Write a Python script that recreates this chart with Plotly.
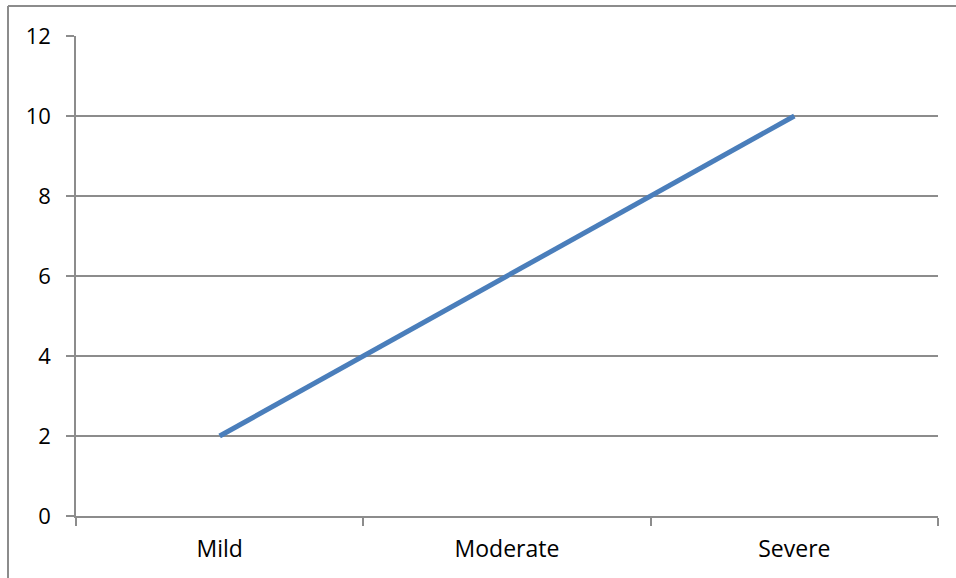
import plotly.graph_objects as go

# Severity categories and their values
categories = ["Mild", "Moderate", "Severe"]
values = [2, 6, 10]
y_ticks = [0, 2, 4, 6, 8, 10, 12]

GRID = "#8c8c8c"
FONT = "'Open Sans', sans-serif"

fig = go.Figure()
fig.add_trace(go.Scatter(
    x=categories,
    y=values,
    mode="lines",
    line=dict(color="#4a7ebb", width=5),
    showlegend=False,
    hoverinfo="x+y",
))

fig.update_layout(
    width=956,
    height=578,
    margin=dict(l=76, r=18, t=36, b=62),
    paper_bgcolor="white",
    plot_bgcolor="white",
    font=dict(family=FONT, size=22, color="#000000"),
    xaxis=dict(
        type="category",
        range=[-0.5, 2.5],
        tickson="boundaries",
        ticks="outside",
        ticklen=8,
        tickcolor=GRID,
        tickwidth=1.5,
        showgrid=False,
        showline=True,
        linecolor=GRID,
        linewidth=1.5,
        ticklabelstandoff=12,
        tickfont=dict(family=FONT, size=23),
    ),
    yaxis=dict(
        range=[0, 12],
        tickvals=y_ticks,
        ticks="outside",
        ticklen=8,
        tickcolor=GRID,
        tickwidth=1.5,
        showgrid=True,
        gridcolor=GRID,
        gridwidth=1.5,
        showline=True,
        linecolor=GRID,
        linewidth=1.5,
        zeroline=False,
        ticklabelstandoff=11,
        tickfont=dict(family=FONT, size=22),
    ),
    shapes=[
        # chart-area frame (left and top edges)
        dict(type="line", xref="paper", yref="paper",
             x0=-68 / 862, x1=2, y0=1 + 30 / 480, y1=1 + 30 / 480,
             line=dict(color=GRID, width=2)),
        dict(type="line", xref="paper", yref="paper",
             x0=-68 / 862, x1=-68 / 862, y0=1 + 30 / 480, y1=-1,
             line=dict(color=GRID, width=2)),
    ],
)

fig.write_html("out.html")
